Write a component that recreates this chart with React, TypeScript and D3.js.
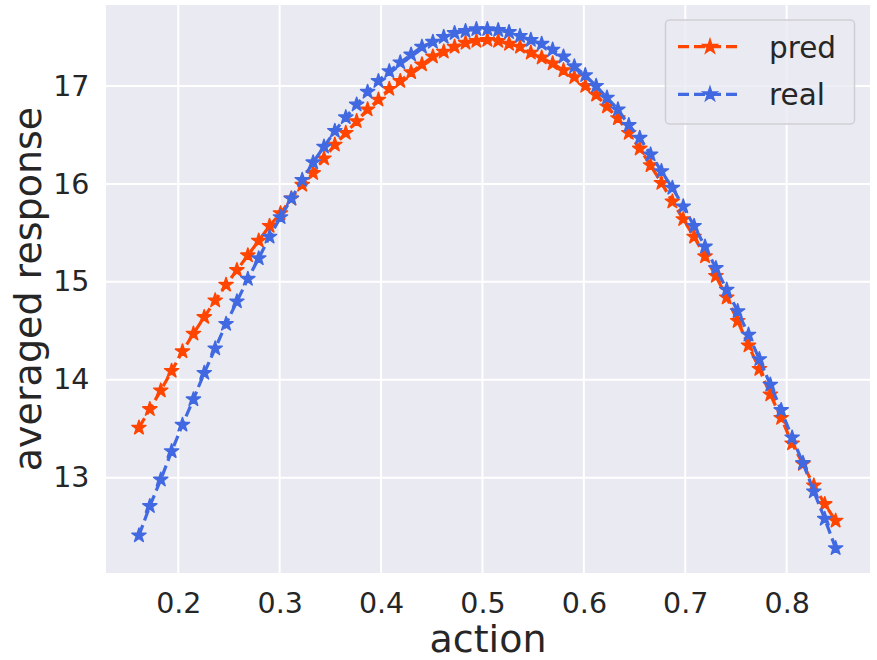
import React, { useEffect, useRef } from 'react';
import * as d3 from 'd3';

// action values (x) shared by both curves
const actions = [
  0.1612, 0.1719, 0.1827, 0.1934, 0.2041, 0.2149, 0.2256, 0.2364, 0.2471, 0.2578,
  0.2686, 0.2793, 0.29, 0.3008, 0.3115, 0.3222, 0.333, 0.3437, 0.3544, 0.3652,
  0.3759, 0.3867, 0.3974, 0.4081, 0.4189, 0.4296, 0.4403, 0.4511, 0.4618, 0.4725,
  0.4833, 0.494, 0.5048, 0.5155, 0.5262, 0.537, 0.5477, 0.5584, 0.5692, 0.5799,
  0.5906, 0.6014, 0.6121, 0.6228, 0.6336, 0.6443, 0.6551, 0.6658, 0.6765, 0.6873,
  0.698, 0.7087, 0.7195, 0.7302, 0.7409, 0.7517, 0.7624, 0.7731, 0.7839, 0.7946,
  0.8054, 0.8161, 0.8268, 0.8376, 0.8483,
];

const pred = [
  13.51, 13.7, 13.89, 14.09, 14.29, 14.47, 14.64, 14.81, 14.97, 15.12,
  15.27, 15.42, 15.57, 15.7, 15.85, 15.99, 16.11, 16.26, 16.4, 16.52,
  16.64, 16.76, 16.86, 16.97, 17.05, 17.14, 17.22, 17.3, 17.35, 17.4,
  17.44, 17.46, 17.47, 17.46, 17.43, 17.4, 17.34, 17.29, 17.23, 17.16,
  17.09, 17.0, 16.91, 16.79, 16.67, 16.52, 16.36, 16.19, 16.01, 15.82,
  15.64, 15.46, 15.26, 15.06, 14.84, 14.6, 14.35, 14.11, 13.85, 13.61,
  13.35, 13.14, 12.92, 12.73, 12.56,
];

const real = [
  12.41, 12.71, 12.98, 13.27, 13.54, 13.8, 14.07, 14.32, 14.57, 14.8,
  15.03, 15.24, 15.46, 15.66, 15.85, 16.04, 16.22, 16.38, 16.54, 16.68,
  16.81, 16.94, 17.05, 17.15, 17.24, 17.32, 17.4, 17.45, 17.5, 17.54,
  17.56, 17.58, 17.58, 17.57, 17.55, 17.51, 17.47, 17.43, 17.37, 17.3,
  17.2, 17.11, 17.0, 16.88, 16.76, 16.6, 16.47, 16.3, 16.13, 15.96,
  15.77, 15.57, 15.36, 15.14, 14.92, 14.7, 14.46, 14.21, 13.95, 13.69,
  13.41, 13.15, 12.86, 12.58, 12.28,
];

const xTicks = [0.2, 0.3, 0.4, 0.5, 0.6, 0.7, 0.8];
const yTicks = [13, 14, 15, 16, 17];

const series = [
  { name: 'pred', values: pred, color: '#ff4500' },
  { name: 'real', values: real, color: '#4169e1' },
];

const App: React.FC = () => {
  const ref = useRef<SVGSVGElement>(null);

  useEffect(() => {
    const width = 877;
    const height = 660;
    const margin = { top: 5, right: 7, bottom: 87, left: 106 };
    const w = width - margin.left - margin.right;
    const h = height - margin.top - margin.bottom;
    const font = '"DejaVu Sans", sans-serif';
    const textColor = '#262626';

    const svg = d3.select(ref.current);
    svg.selectAll('*').remove();

    const g = svg.append('g').attr('transform', `translate(${margin.left},${margin.top})`);

    const x = d3.scaleLinear().domain([0.1287, 0.8822]).range([0, w]);
    const y = d3.scaleLinear().domain([12.027, 17.827]).range([h, 0]);

    g.append('rect').attr('width', w).attr('height', h).attr('fill', '#eaeaf2');

    // grid
    g.selectAll('.gx')
      .data(xTicks)
      .enter()
      .append('line')
      .attr('x1', (d) => x(d))
      .attr('x2', (d) => x(d))
      .attr('y1', 0)
      .attr('y2', h)
      .attr('stroke', '#fff')
      .attr('stroke-width', 2);
    g.selectAll('.gy')
      .data(yTicks)
      .enter()
      .append('line')
      .attr('x1', 0)
      .attr('x2', w)
      .attr('y1', (d) => y(d))
      .attr('y2', (d) => y(d))
      .attr('stroke', '#fff')
      .attr('stroke-width', 2);

    // axes
    const xAxis = g
      .append('g')
      .attr('transform', `translate(0,${h})`)
      .call(d3.axisBottom(x).tickValues(xTicks).tickSize(0).tickPadding(19.5).tickFormat(d3.format('.1f')));
    const yAxis = g
      .append('g')
      .call(d3.axisLeft(y).tickValues(yTicks).tickSize(0).tickPadding(16.5).tickFormat(d3.format('d')));
    [xAxis, yAxis].forEach((a) => {
      a.select('.domain').remove();
      a.selectAll('text').attr('font-family', font).attr('font-size', 28.5).attr('fill', textColor);
    });

    // lines + markers
    const line = d3
      .line<number>()
      .x((_, i) => x(actions[i]))
      .y((d) => y(d));
    const star = d3.symbol().type(d3.symbolStar).size(62);

    series.forEach((s) => {
      g.append('path')
        .datum(s.values)
        .attr('d', line)
        .attr('fill', 'none')
        .attr('stroke', s.color)
        .attr('stroke-width', 3.2)
        .attr('stroke-dasharray', '11,5');
      g.selectAll(null)
        .data(s.values)
        .enter()
        .append('path')
        .attr('d', star)
        .attr('transform', (d, i) => `translate(${x(actions[i])},${y(d)})`)
        .attr('fill', s.color)
        .attr('stroke', s.color)
        .attr('stroke-width', 1.5)
        .attr('stroke-linejoin', 'round');
    });

    // axis labels
    svg
      .append('text')
      .attr('x', margin.left + w / 2)
      .attr('y', 652)
      .attr('text-anchor', 'middle')
      .attr('font-family', font)
      .attr('font-size', 38)
      .attr('fill', textColor)
      .text('action');
    svg
      .append('text')
      .attr('transform', `translate(41,${margin.top + h / 2}) rotate(-90)`)
      .attr('text-anchor', 'middle')
      .attr('font-family', font)
      .attr('font-size', 38)
      .attr('fill', textColor)
      .text('averaged response');

    // legend
    const lg = svg.append('g');
    lg.append('rect')
      .attr('x', 665.5)
      .attr('y', 20)
      .attr('width', 189)
      .attr('height', 104)
      .attr('rx', 4)
      .attr('fill', '#eaeaf2')
      .attr('fill-opacity', 0.8)
      .attr('stroke', '#cfcfd4')
      .attr('stroke-width', 1.5);
    series.forEach((s, i) => {
      const ly = 46.7 + i * 47.6;
      lg.append('line')
        .attr('x1', 678)
        .attr('x2', 742)
        .attr('y1', ly)
        .attr('y2', ly)
        .attr('stroke', s.color)
        .attr('stroke-width', 3.2)
        .attr('stroke-dasharray', '11,5');
      lg.append('path')
        .attr('d', star)
        .attr('transform', `translate(710,${ly})`)
        .attr('fill', s.color)
        .attr('stroke', s.color)
        .attr('stroke-width', 1.5);
      lg.append('text')
        .attr('x', 769)
        .attr('y', ly + 11)
        .attr('font-family', font)
        .attr('font-size', 29.5)
        .attr('fill', textColor)
        .text(s.name);
    });
  }, []);

  return (
    <svg
      ref={ref}
      width={877}
      height={660}
      style={{ position: 'absolute', left: 0, top: 0, background: '#fff' }}
    />
  );
};

export default App;
